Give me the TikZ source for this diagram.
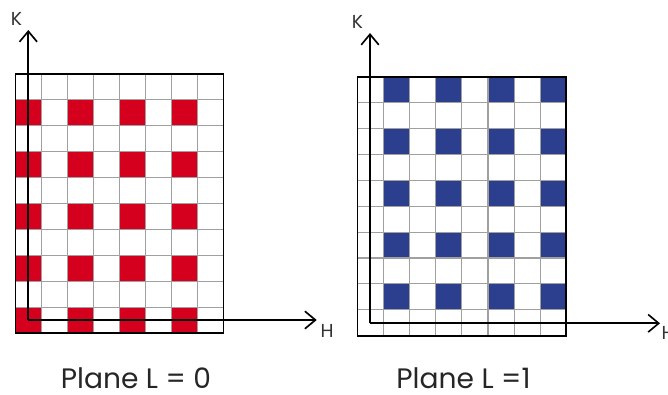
\documentclass[tikz,border=0pt]{standalone}
\usepackage{fontspec}
\setmainfont{Poppins}
\usetikzlibrary{arrows.meta, positioning}
\definecolor{planeRed}{HTML}{D4001E}
\definecolor{planeBlue}{HTML}{2B3F8E}
\definecolor{gridGray}{HTML}{A0A0A0}

\begin{document}
\begin{tikzpicture}[
    x=0.03cm, y=-0.03cm,
    axis/.style={draw=black, line width=1.4pt, -{Straight Barb[length=9pt, width=15pt]}},
    frame/.style={draw=black, line width=1.5pt},
    cellline/.style={draw=gridGray, line width=1pt},
    axlabel/.style={font=\fontsize{16}{16}\selectfont, text=black!80, inner sep=0pt},
    caption/.style={font=\fontsize{24}{24}\selectfont, text=black!85, inner sep=0pt, anchor=base}
]
\useasboundingbox (0,0) rectangle (668,395);

% plane L = 0 (red cells)
\foreach \c in {0,2,4,6}
  \foreach \r in {1,3,5,7,9}
    \fill[planeRed] (15.5+26*\c, 74+25.9*\r) rectangle ++(26,25.9);
\foreach \c in {1,...,7}
  \draw[cellline] (15.5+26*\c, 74) -- (15.5+26*\c, 333);
\foreach \r in {1,...,9}
  \draw[cellline] (15.5, 74+25.9*\r) -- (223.5, 74+25.9*\r);
\draw[frame] (15.5,74) rectangle (223.5,333);

% plane L = 1 (blue cells)
\foreach \c in {1,3,5,7}
  \foreach \r in {0,2,4,6,8}
    \fill[planeBlue] (357.5+26.1*\c, 76.7+25.9*\r) rectangle ++(26.1,25.9);
\foreach \c in {1,...,7}
  \draw[cellline] (357.5+26.1*\c, 76.7) -- (357.5+26.1*\c, 335.7);
\foreach \r in {1,...,9}
  \draw[cellline] (357.5, 76.7+25.9*\r) -- (566.3, 76.7+25.9*\r);
\draw[frame] (357.5,76.7) rectangle (566.3,335.7);

% axes
\coordinate (originA) at (28.3,320);
\coordinate (kTipA) at (28.3,30);
\coordinate (hTipA) at (316.7,320);
\coordinate (originB) at (370,323.3);
\coordinate (kTipB) at (370,33);
\coordinate (hTipB) at (660,323.3);

\draw[axis] (originA) -- (kTipA);
\draw[axis] (originA) -- (hTipA);
\draw[axis] (originB) -- (kTipB);
\draw[axis] (originB) -- (hTipB);

\node[axlabel] (kLabelA) at (16.5,19) {K};
\node[axlabel] (hLabelA) at (327,331) {H};
\node[axlabel] (kLabelB) at (357.5,21.7) {K};
\node[axlabel, anchor=west] (hLabelB) at (661.5,333) {H};

% captions
\node[caption] (captionA) at (136,388) {Plane L = 0};
\node[caption] (captionB) at (463.5,388) {Plane L =1};
\end{tikzpicture}
\end{document}
